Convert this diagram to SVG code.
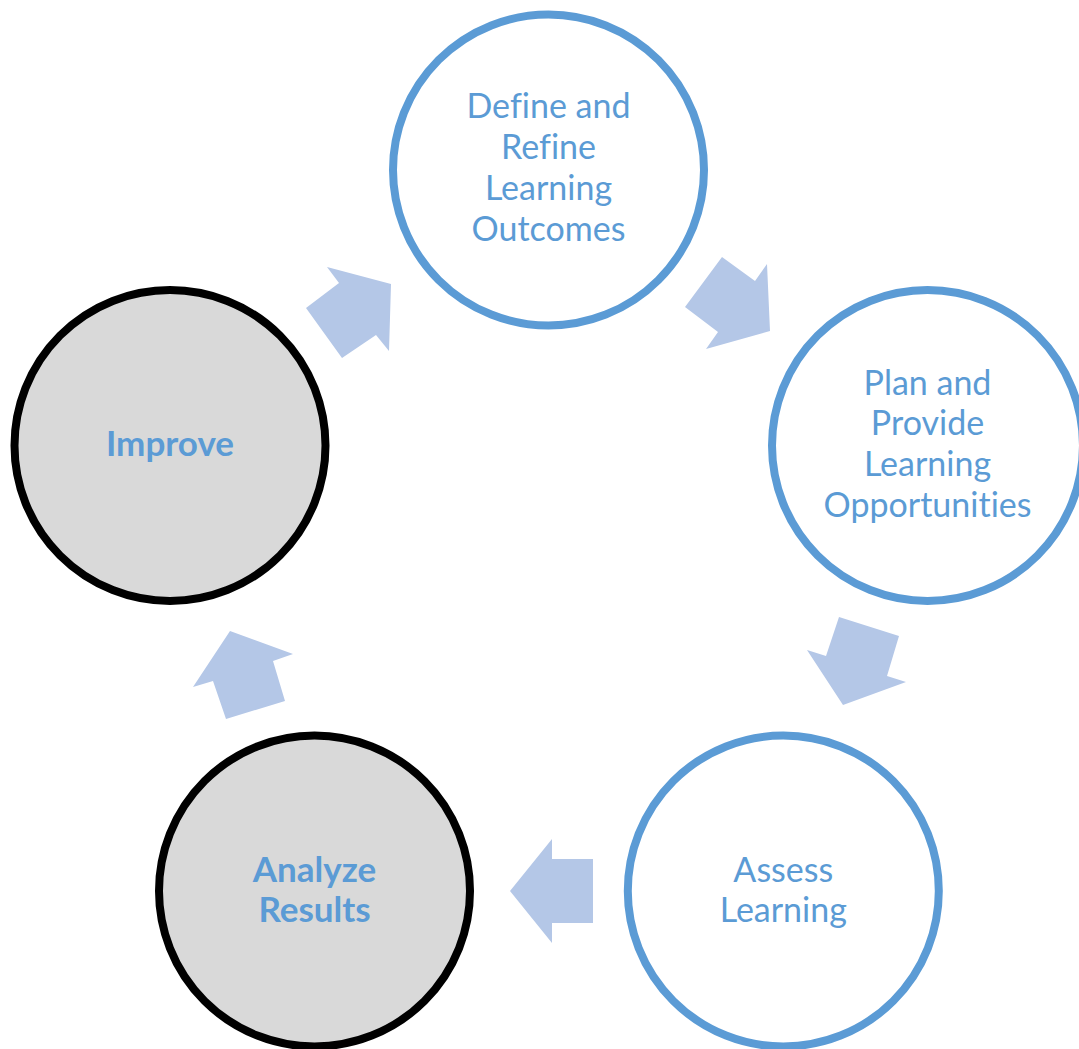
<svg xmlns="http://www.w3.org/2000/svg" width="1079" height="1049" viewBox="0 0 1079 1049">
<style>
.bc{fill:#FFFFFF;stroke:#5B9BD5;stroke-width:8}
.gc{fill:#D9D9D9;stroke:#000000;stroke-width:8}
.t{font-family:Lato,"Liberation Sans",sans-serif;font-size:34px;fill:#5B9BD5;text-anchor:middle;font-variant-ligatures:none;font-feature-settings:"liga" 0,"dlig" 0}
.tb{font-weight:bold;font-size:35px}
.ar{fill:#B4C7E7}
</style>
<rect width="1079" height="1049" fill="#FFFFFF"/>
<g id="connectors">
<polygon class="ar" points="327,267 391,284 389,351 376,335 342,358 306,308 339,283"/>
<polygon class="ar" points="722,257 755,281 767,264 770,331 706,349 718,332 685,307"/>
<polygon class="ar" points="839,617 899,636 887,676 906,682 843,705 807,650 826,656"/>
<polygon class="ar" points="552,839 552,859 593,859 593,923 552,923 552,943 510,891"/>
<polygon class="ar" points="230,631 293,654 273,661 285,701 226,719 213,681 193,687"/>
</g>
<g id="node-define">
<circle class="bc" cx="548.5" cy="170" r="155.5"/>
<text class="t" x="548.5" y="118.3">Define and</text>
<text class="t" x="548.5" y="159.3">Refine</text>
<text class="t" x="548.5" y="200">Learning</text>
<text class="t" x="548.5" y="240.7">Outcomes</text>
</g>
<g id="node-plan">
<circle class="bc" cx="927.5" cy="445.5" r="155.5"/>
<text class="t" x="927.5" y="394.5">Plan and</text>
<text class="t" x="927.5" y="435.3">Provide</text>
<text class="t" x="927.5" y="476">Learning</text>
<text class="t" x="927.5" y="516.7">Opportunities</text>
</g>
<g id="node-assess">
<circle class="bc" cx="783.3" cy="891" r="155.5"/>
<text class="t" x="783.3" y="881.7">Assess</text>
<text class="t" x="783.3" y="922.3">Learning</text>
</g>
<g id="node-analyze">
<circle class="gc" cx="314.5" cy="891" r="155.5"/>
<text class="t tb" x="314.5" y="881.7">Analyze</text>
<text class="t tb" x="314.5" y="922.3">Results</text>
</g>
<g id="node-improve">
<circle class="gc" cx="170" cy="445.5" r="155.5"/>
<text class="t tb" x="170" y="456">Improve</text>
</g>
</svg>
